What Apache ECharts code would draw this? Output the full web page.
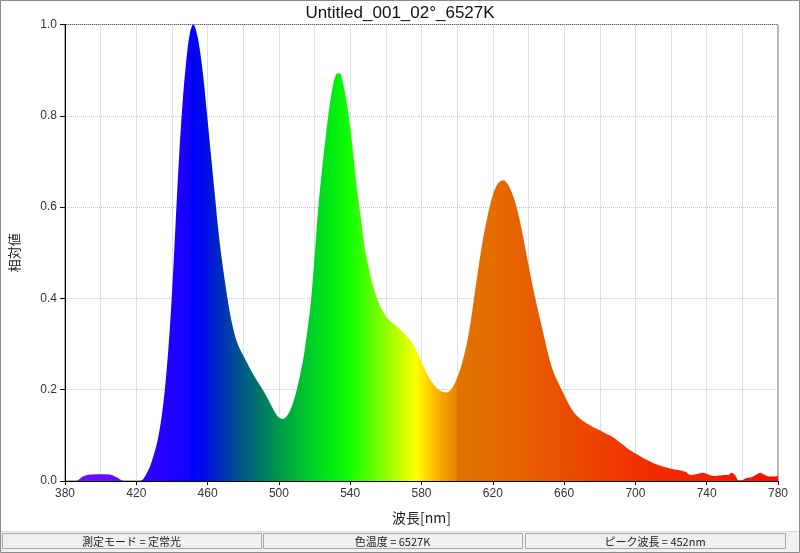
<!DOCTYPE html>
<html>
<head>
<meta charset="utf-8">
<script src="https://cdn.jsdelivr.net/npm/echarts@6/dist/echarts.min.js"></script>
<style>
html,body{margin:0;padding:0;background:#fff;}
#chart{width:800px;height:553px;}
</style>
</head>
<body>
<div id="chart"></div>
<script>
// ---- data ----
const titleText = 'Untitled_001_02°_6527K';
const xAxisName = '波長[nm]';
const yAxisName = '相対値';
const statusTexts = ['測定モード = 定常光', '色温度 = 6527K', 'ピーク波長 = 452nm'];

const wavelengths = [
  380,386,388,390,394,400,405,409,412,414,422,424,426,428,430,432,434,436,438,440,
  442,444,446,448,450,452,454,456,458,460,462,464,466,468,470,472,474,476,478,480,
  482,484,486,488,490,492,494,496,498,500,502,504,506,508,510,512,514,516,518,520,
  522,524,526,528,530,532,534,536,538,540,542,544,546,548,550,552,554,556,558,560,
  562,564,566,568,570,572,574,576,578,580,582,584,586,588,590,592,594,596,598,600,
  602,604,606,608,610,612,614,616,618,620,622,624,626,628,630,632,634,636,638,640,
  642,644,646,648,650,652,654,656,658,660,662,664,666,668,670,672,674,676,678,680,
  682,684,686,688,690,692,694,696,698,700,704,708,712,716,720,724,728,731,734,738,
  741,744,747,750,752,754,756,758,760,762,765,768,770,772,775,778,780
];
const intensities = [
  0,0,0.004,0.01,0.014,0.015,0.014,0.008,0.001,0,0,0.005,0.018,0.035,0.06,0.09,0.135,0.2,0.29,0.41,
  0.56,0.71,0.83,0.92,0.98,1.0,0.98,0.935,0.87,0.79,0.71,0.63,0.55,0.485,0.43,0.38,0.34,0.31,0.29,0.275,
  0.26,0.245,0.231,0.218,0.206,0.193,0.179,0.163,0.149,0.139,0.136,0.14,0.152,0.172,0.2,0.235,0.275,0.33,0.395,0.49,
  0.595,0.675,0.745,0.81,0.86,0.89,0.893,0.87,0.83,0.775,0.705,0.635,0.575,0.515,0.475,0.44,0.412,0.39,0.374,0.361,
  0.352,0.345,0.339,0.332,0.324,0.316,0.306,0.294,0.279,0.261,0.243,0.228,0.216,0.206,0.199,0.195,0.194,0.198,0.209,0.226,
  0.248,0.277,0.312,0.36,0.415,0.468,0.518,0.56,0.597,0.626,0.646,0.656,0.659,0.652,0.638,0.618,0.59,0.555,0.515,0.474,
  0.434,0.397,0.363,0.329,0.295,0.264,0.239,0.221,0.205,0.189,0.173,0.159,0.148,0.14,0.133,0.128,0.123,0.119,0.115,0.111,
  0.107,0.103,0.099,0.094,0.088,0.082,0.076,0.07,0.065,0.06,0.051,0.043,0.036,0.031,0.027,0.024,0.02,0.013,0.015,0.018,
  0.014,0.011,0.012,0.013,0.013,0.018,0.012,0.001,0.002,0.006,0.008,0.014,0.018,0.014,0.01,0.01,0.011
];
const xTicks = [380,420,460,500,540,580,620,660,700,740,780];
const yTicks = [0,0.2,0.4,0.6,0.8,1.0];

// ---- style: colour along the wavelength range ----
const spectrumStops = [
  [380,'#6a10ff'],[412,'#6010ff'],[424,'#3000ff'],[449.5,'#1400ff'],[450,'#0a08ff'],[451,'#0000ff'],
  [460,'#0010e0'],[470,'#0038b0'],[480,'#005a88'],[490,'#007868'],[500,'#00984a'],[510,'#00b836'],
  [520,'#00d424'],[530,'#00ec10'],[540,'#14ff00'],[550,'#50ff00'],[560,'#90ff00'],[570,'#d0ff00'],
  [577,'#ffff00'],[585,'#ffc800'],[592,'#f5a000'],[599.5,'#e88800'],[600,'#e07400'],[620,'#e46c00'],
  [640,'#e85e00'],[660,'#ea4e00'],[680,'#ee4000'],[700,'#f03000'],[740,'#f62000'],[780,'#ff0a00']
];

const data = wavelengths.map((w, i) => [w, intensities[i]]);
const colorStops = spectrumStops.map(s => ({offset: (s[0] - 380) / 400, color: s[1]}));

const chart = echarts.init(document.getElementById('chart'), null, {renderer: 'canvas'});
const latin = 'Liberation Sans, Arial, sans-serif';
const cjk = 'Noto Sans CJK JP, sans-serif';
const gridLine = {show: true, lineStyle: {color: '#c4c4c4', type: 'dotted', width: 1}};

const boxes = [[2, 261], [263, 522], [525, 785]];
const graphics = [
  {type: 'rect', shape: {x: 0, y: 531, width: 800, height: 22}, style: {fill: '#f0f0f0'}, z: -1},
  {type: 'line', shape: {x1: 0, y1: 531.5, x2: 800, y2: 531.5}, style: {stroke: '#d8d8d8', lineWidth: 1}}
];
boxes.forEach((b, i) => {
  graphics.push({type: 'rect', shape: {x: b[0] + 0.5, y: 533.5, width: b[1] - b[0], height: 15},
    style: {fill: '#f0f0f0', stroke: '#a8a8a8', lineWidth: 1}});
  graphics.push({type: 'text', x: (b[0] + b[1]) / 2, y: 541.5,
    style: {text: statusTexts[i], fill: '#222', font: '11px ' + cjk, align: 'center', verticalAlign: 'middle'}});
});
graphics.push({type: 'rect', shape: {x: 0.5, y: 0.5, width: 799, height: 552},
  style: {fill: 'none', stroke: '#8a8a8a', lineWidth: 1}, z: 100});

chart.setOption({
  animation: false,
  backgroundColor: '#fff',
  title: {text: titleText, left: 'center', top: 0,
    textStyle: {fontFamily: latin, fontSize: 17, fontWeight: 'normal', color: '#111'}},
  grid: {left: 65, right: 22, top: 24.5, bottom: 72, show: true, borderColor: '#606060', borderWidth: 1,
    backgroundColor: 'transparent'},
  xAxis: {
    type: 'value', min: 380, max: 780, interval: 40,
    name: xAxisName, nameLocation: 'middle', nameGap: 30,
    nameTextStyle: {fontFamily: cjk, fontSize: 14, color: '#222'},
    axisLine: {show: true, lineStyle: {color: '#000', width: 1}},
    axisTick: {show: true, length: 4, lineStyle: {color: '#000'}},
    axisLabel: {fontFamily: latin, fontSize: 12, color: '#333', margin: 7},
    splitLine: gridLine,
    minorTick: {show: false, splitNumber: 2},
    minorSplitLine: gridLine
  },
  yAxis: {
    type: 'value', min: 0, max: 1, interval: 0.2,
    name: yAxisName, nameLocation: 'middle', nameGap: 44, nameRotate: 90,
    nameTextStyle: {fontFamily: cjk, fontSize: 13, color: '#222'},
    axisLine: {show: true, lineStyle: {color: '#000', width: 1}},
    axisTick: {show: true, length: 5, lineStyle: {color: '#000'}},
    axisLabel: {fontFamily: latin, fontSize: 12, color: '#333', margin: 8,
      formatter: v => v.toFixed(1)},
    splitLine: gridLine
  },
  graphic: graphics,
  series: [{
    type: 'line',
    data: data,
    smooth: 0.35,
    showSymbol: false,
    lineStyle: {width: 0},
    areaStyle: {
      opacity: 1,
      color: {type: 'linear', x: 0, y: 0, x2: 1, y2: 0, colorStops: colorStops}
    },
    z: 1
  }]
});
</script>
</body>
</html>
